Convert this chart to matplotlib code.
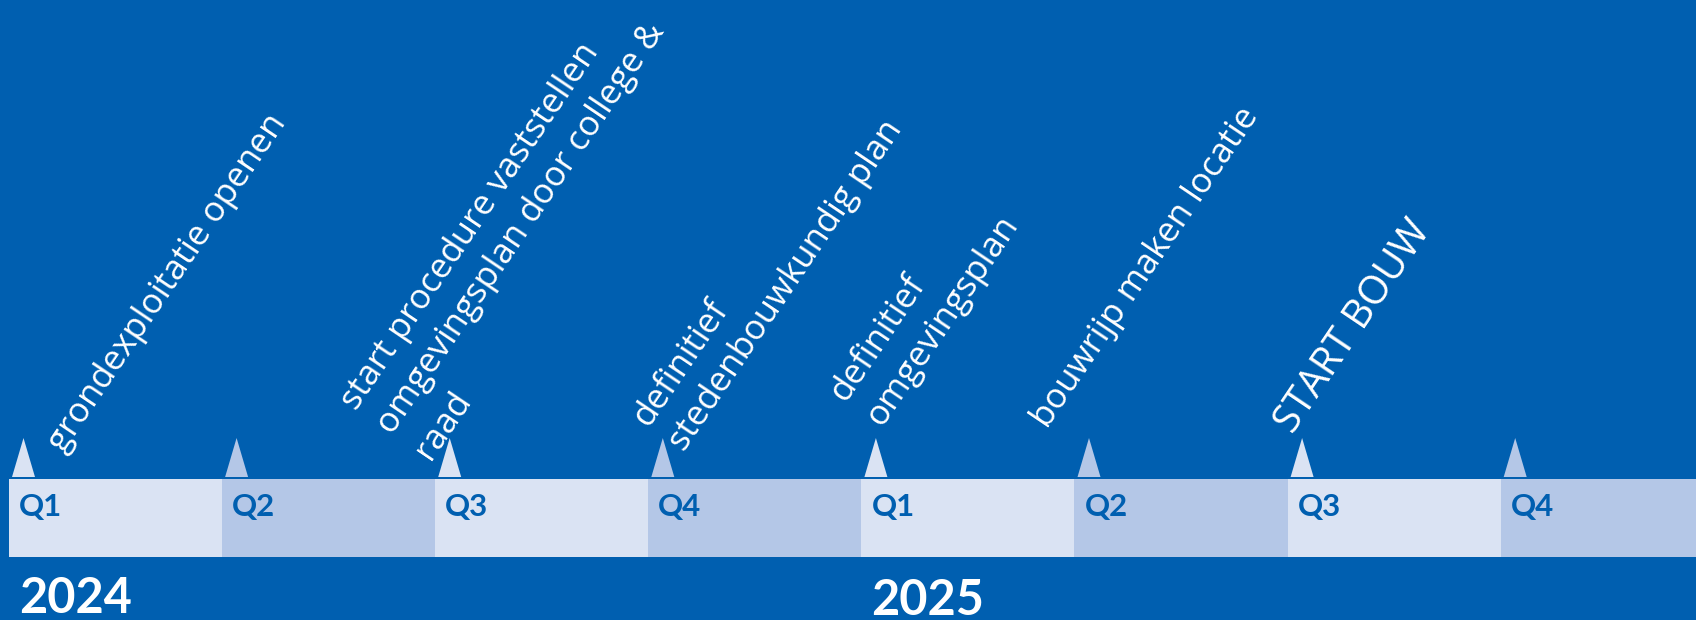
import matplotlib.pyplot as plt
from matplotlib.patches import Polygon

# timeline data
quarters = ["Q1", "Q2", "Q3", "Q4", "Q1", "Q2", "Q3", "Q4"]
years = ["2024", "2025"]
year_start_idx = [0, 4]
milestone_idx = [0, 2, 3, 4, 5, 6]
milestone_text = [
    "grondexploitatie openen",
    "start procedure vaststellen\nomgevingsplan door college &\nraad",
    "definitief\nstedenbouwkundig plan",
    "definitief\nomgevingsplan",
    "bouwrijp maken locatie",
    "START BOUW",
]

# layout (pixels of a 1696x620 canvas)
W, H = 1696, 620
X0, QW = 9, 213.1
BAR_TOP, BAR_BOT = 479, 557
# baseline start of the last line of each label
label_anchor = [(63, 454), (421, 455), (676, 447), (873, 422), (1047, 430), (1293, 435)]
label_size = [25, 25, 25, 25, 25, 28.5]

BG = "#005FB0"
LIGHT = "#DAE3F3"
DARK = "#B4C7E7"


def px2q(px):
    return (px - X0) / QW


fig = plt.figure(figsize=(W / 100, H / 100), dpi=100, facecolor=BG)
ax = fig.add_axes([0, 0, 1, 1])
ax.set_facecolor(BG)
ax.set_xlim(px2q(0), px2q(W))
ax.set_ylim(H, 0)
ax.axis("off")

colors = [LIGHT if i % 2 == 0 else DARK for i in range(len(quarters))]
ax.bar(range(len(quarters)), BAR_BOT - BAR_TOP, width=1.0, bottom=BAR_TOP,
       align="edge", color=colors, linewidth=0)

for i, q in enumerate(quarters):
    ax.text(i + 10 / QW, 507, q, color=BG, fontsize=22.5, fontweight="bold",
            family="Lato", ha="left", va="center")
    # milestone triangle at the start of every quarter
    tri = Polygon([(i + 3 / QW, 477), (i + 26 / QW, 477), (i + 14.5 / QW, 438)],
                  closed=True, facecolor=colors[i], edgecolor="none")
    ax.add_patch(tri)

for y, idx, dy in zip(years, year_start_idx, [613, 615]):
    ax.text(idx + 10 / QW, dy, y, color="white", fontsize=35, fontweight="bold",
            family="Lato", ha="left", va="baseline")

for txt, (ax_px, ay_px), fs in zip(milestone_text, label_anchor, label_size):
    ax.text(px2q(ax_px), ay_px, txt, color="white", fontsize=fs, family="Open Sans",
            rotation=56, rotation_mode="anchor", ha="left", va="baseline",
            linespacing=1.4)

fig.savefig("out.png", dpi=100, facecolor=BG)
